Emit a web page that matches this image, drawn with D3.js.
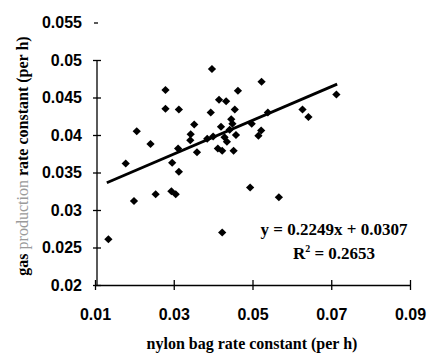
<!DOCTYPE html>
<html>
<head>
<meta charset="utf-8">
<script src="https://cdn.jsdelivr.net/npm/d3@7"></script>
<style>
    body { margin: 0; background: #fff; }
</style>
</head>
<body>
<div id="chart"></div>
<script>
// nylon bag rate constant (x) vs gas production rate constant (y), per h
const nylonRate = [0.0397, 0.0279, 0.0523, 0.0463, 0.0279, 0.0313, 0.0415, 0.0433, 0.0455, 0.0394,
    0.0539, 0.0206, 0.0352, 0.0343, 0.0342, 0.0241, 0.0420, 0.0446, 0.0449, 0.0498,
    0.0522, 0.0515, 0.0400, 0.0385, 0.0429, 0.0458, 0.0442, 0.0435, 0.0311, 0.0359,
    0.0412, 0.0423, 0.0452, 0.0178, 0.0296, 0.0313, 0.0494, 0.0199, 0.0254, 0.0294,
    0.0305, 0.0567, 0.0423, 0.0134, 0.0627, 0.0642, 0.0713];
const gasRate = [0.0488, 0.0460, 0.0471, 0.0459, 0.0435, 0.0434, 0.0447, 0.0445, 0.0434, 0.0430,
    0.0430, 0.0405, 0.0414, 0.0401, 0.0393, 0.0388, 0.0411, 0.0421, 0.0415, 0.0415,
    0.0406, 0.0399, 0.0398, 0.0395, 0.0397, 0.0400, 0.0407, 0.0391, 0.0382, 0.0377,
    0.0382, 0.0379, 0.0379, 0.0362, 0.0363, 0.0351, 0.0330, 0.0312, 0.0321, 0.0325,
    0.0321, 0.0317, 0.0270, 0.0261, 0.0434, 0.0424, 0.0454];

const xTicks = [0.01, 0.03, 0.05, 0.07, 0.09];
const yTicks = [0.02, 0.025, 0.03, 0.035, 0.04, 0.045, 0.05, 0.055];

// trendline y = 0.2249x + 0.0307, drawn over this x range
const slope = 0.2249;
const intercept = 0.0307;
const trendRange = [0.013, 0.0715];

const width = 427;
const height = 359;
const margin = { top: 22.5, right: 17, bottom: 74, left: 95 };

const points = nylonRate.map((x, i) => ({ x: x, y: gasRate[i] }));

const xScale = d3.scaleLinear()
    .domain([0.01, 0.09])
    .range([margin.left, width - margin.right]);

const yScale = d3.scaleLinear()
    .domain([0.02, 0.055])
    .range([height - margin.bottom, margin.top]);

const svg = d3.select("#chart").append("svg")
    .attr("width", width)
    .attr("height", height);

const tickFont = "'Liberation Sans', Arial, sans-serif";
const titleFont = "'Liberation Serif', 'Times New Roman', serif";

// y axis (line only runs up to 0.05, 0.055 gets a small dash)
const yAxis = svg.append("g")
    .attr("transform", `translate(${margin.left + 2}, 0)`)
    .call(d3.axisLeft(yScale).tickValues(yTicks).tickFormat(d => d3.format("")(+d.toFixed(3))).tickSize(0).tickPadding(15));

yAxis.select(".domain").remove();
yAxis.selectAll(".tick line")
    .attr("x1", d => d === 0.055 ? -3 : -4)
    .attr("x2", d => d === 0.055 ? 1 : 4)
    .attr("stroke", "#000")
    .attr("stroke-width", 1.3);
yAxis.selectAll("text")
    .style("font-family", tickFont)
    .style("font-size", "16px")
    .style("font-weight", "bold")
    .attr("fill", "#000");

yAxis.append("line")
    .attr("x1", 0).attr("x2", 0)
    .attr("y1", yScale(0.05))
    .attr("y2", yScale(0.02))
    .attr("stroke", "#000")
    .attr("stroke-width", 1.3);

// x axis with ticks crossing the line
const xAxis = svg.append("g")
    .attr("transform", `translate(0, ${yScale(0.02)})`)
    .call(d3.axisBottom(xScale).tickValues(xTicks).tickFormat(d => d3.format("")(+d.toFixed(2))).tickSize(0).tickPadding(24));

xAxis.select(".domain")
    .attr("stroke", "#000")
    .attr("stroke-width", 1.6);
xAxis.selectAll(".tick line")
    .attr("y1", -5)
    .attr("y2", 5)
    .attr("stroke", "#000")
    .attr("stroke-width", 1.3);
xAxis.selectAll("text")
    .style("font-family", tickFont)
    .style("font-size", "16px")
    .style("font-weight", "bold")
    .attr("fill", "#000");

// trendline
const trend = d3.line()
    .x(d => xScale(d))
    .y(d => yScale(slope * d + intercept));

svg.append("path")
    .datum(trendRange)
    .attr("d", trend)
    .attr("fill", "none")
    .attr("stroke", "#000")
    .attr("stroke-width", 2.8);

// diamond markers
svg.selectAll(".point")
    .data(points)
    .enter()
    .append("path")
    .attr("class", "point")
    .attr("d", d3.symbol().type(d3.symbolSquare).size(34))
    .attr("transform", d => `translate(${xScale(d.x)}, ${yScale(d.y)}) rotate(45)`)
    .attr("fill", "#000");

// equation text
const eqX = 334;
svg.append("text")
    .attr("x", eqX)
    .attr("y", 235)
    .attr("text-anchor", "middle")
    .style("font-family", titleFont)
    .style("font-size", "17px")
    .style("font-weight", "bold")
    .text("y = 0.2249x + 0.0307");

const r2 = svg.append("text")
    .attr("x", eqX)
    .attr("y", 259)
    .attr("text-anchor", "middle")
    .style("font-family", titleFont)
    .style("font-size", "17px")
    .style("font-weight", "bold");
r2.append("tspan").text("R");
r2.append("tspan").attr("dy", -7).style("font-size", "10px").text("2");
r2.append("tspan").attr("dy", 7).text(" = 0.2653");

// axis titles
svg.append("text")
    .attr("x", 252)
    .attr("y", 349)
    .attr("text-anchor", "middle")
    .style("font-family", titleFont)
    .style("font-size", "16px")
    .style("font-weight", "bold")
    .text("nylon bag rate constant (per h)");

const yLabel = svg.append("text")
    .attr("transform", "rotate(-90)")
    .attr("x", -156)
    .attr("y", 28)
    .attr("text-anchor", "middle")
    .style("font-family", titleFont)
    .style("font-size", "16px")
    .style("font-weight", "bold");
yLabel.append("tspan").text("gas ");
yLabel.append("tspan").attr("fill", "#9a9a9a").style("font-weight", "normal").text("production");
yLabel.append("tspan").text(" rate constant (per h)");
</script>
</body>
</html>
